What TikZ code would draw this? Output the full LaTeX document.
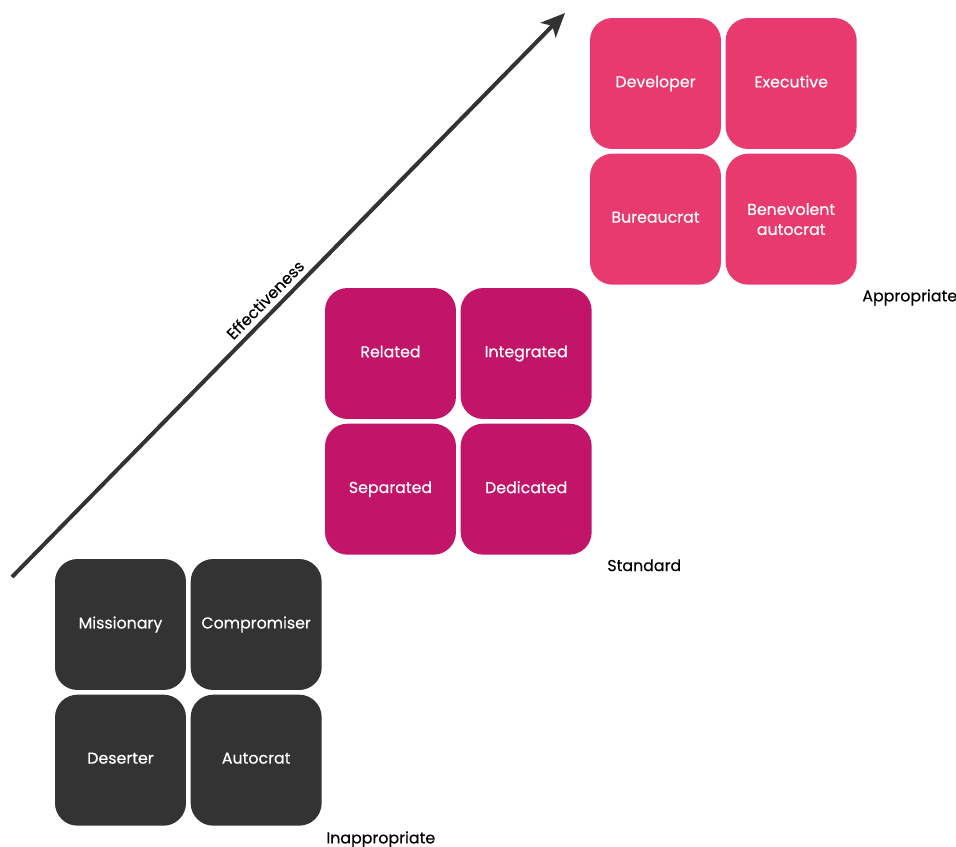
\documentclass[tikz,border=0pt]{standalone}
\usepackage{fontspec}
\setmainfont{Poppins}[FakeBold=0.35]
\usepackage{tikz}
\usetikzlibrary{arrows.meta,positioning}
\definecolor{tilegrey}{HTML}{333333}
\definecolor{tilemagenta}{HTML}{C2156A}
\definecolor{tilepink}{HTML}{E83A6E}

\begin{document}
\begin{tikzpicture}[x=0.02cm,y=-0.02cm,
  tile/.style={rounded corners=0.45cm,minimum width=2.62cm,minimum height=2.62cm,text width=2.4cm,align=center,inner sep=0pt,text=white,font=\fontsize{9}{11.4}\selectfont,execute at begin node=\vphantom{Ay}},
  greytile/.style={tile,fill=tilegrey},
  magentatile/.style={tile,fill=tilemagenta},
  pinktile/.style={tile,fill=tilepink},
  level/.style={inner sep=0pt,font=\fontsize{9}{11}\selectfont},
  axis/.style={line width=0.08cm,draw=tilegrey,-{Stealth[length=0.48cm,width=0.42cm,inset=0.12cm]}}]
\useasboundingbox (0,0) rectangle (956,847);
\coordinate (tail) at (12,577);
\coordinate (head) at (565,13);
\draw[axis] (tail) -- node[sloped,above=3pt,pos=0.475,level] (effectiveness) {Effectiveness} (head);
\node[greytile] (missionary) at (120.5,624.5) {Missionary};
\node[greytile,right=0.08cm of missionary] (compromiser) {Compromiser};
\node[greytile,below=0.08cm of missionary] (deserter) {Deserter};
\node[greytile,right=0.08cm of deserter] (autocrat) {Autocrat};
\node[level,below right=0.1cm and 0.08cm of autocrat.south east] (inappropriate) {Inappropriate};
\node[magentatile] (related) at (390.5,353.5) {Related};
\node[magentatile,right=0.08cm of related] (integrated) {Integrated};
\node[magentatile,below=0.08cm of related] (separated) {Separated};
\node[magentatile,right=0.08cm of separated] (dedicated) {Dedicated};
\node[level,below right=0.08cm and 0.3cm of dedicated.south east] (standard) {Standard};
\node[pinktile] (developer) at (655.5,83.5) {Developer};
\node[pinktile,right=0.08cm of developer] (executive) {Executive};
\node[pinktile,below=0.08cm of developer] (bureaucrat) {Bureaucrat};
\node[pinktile,right=0.08cm of bureaucrat] (benevolent) {Benevolent\\autocrat};
\node[level,below right=0.08cm and 0.1cm of benevolent.south east] (appropriate) {Appropriate};
\end{tikzpicture}
\end{document}
